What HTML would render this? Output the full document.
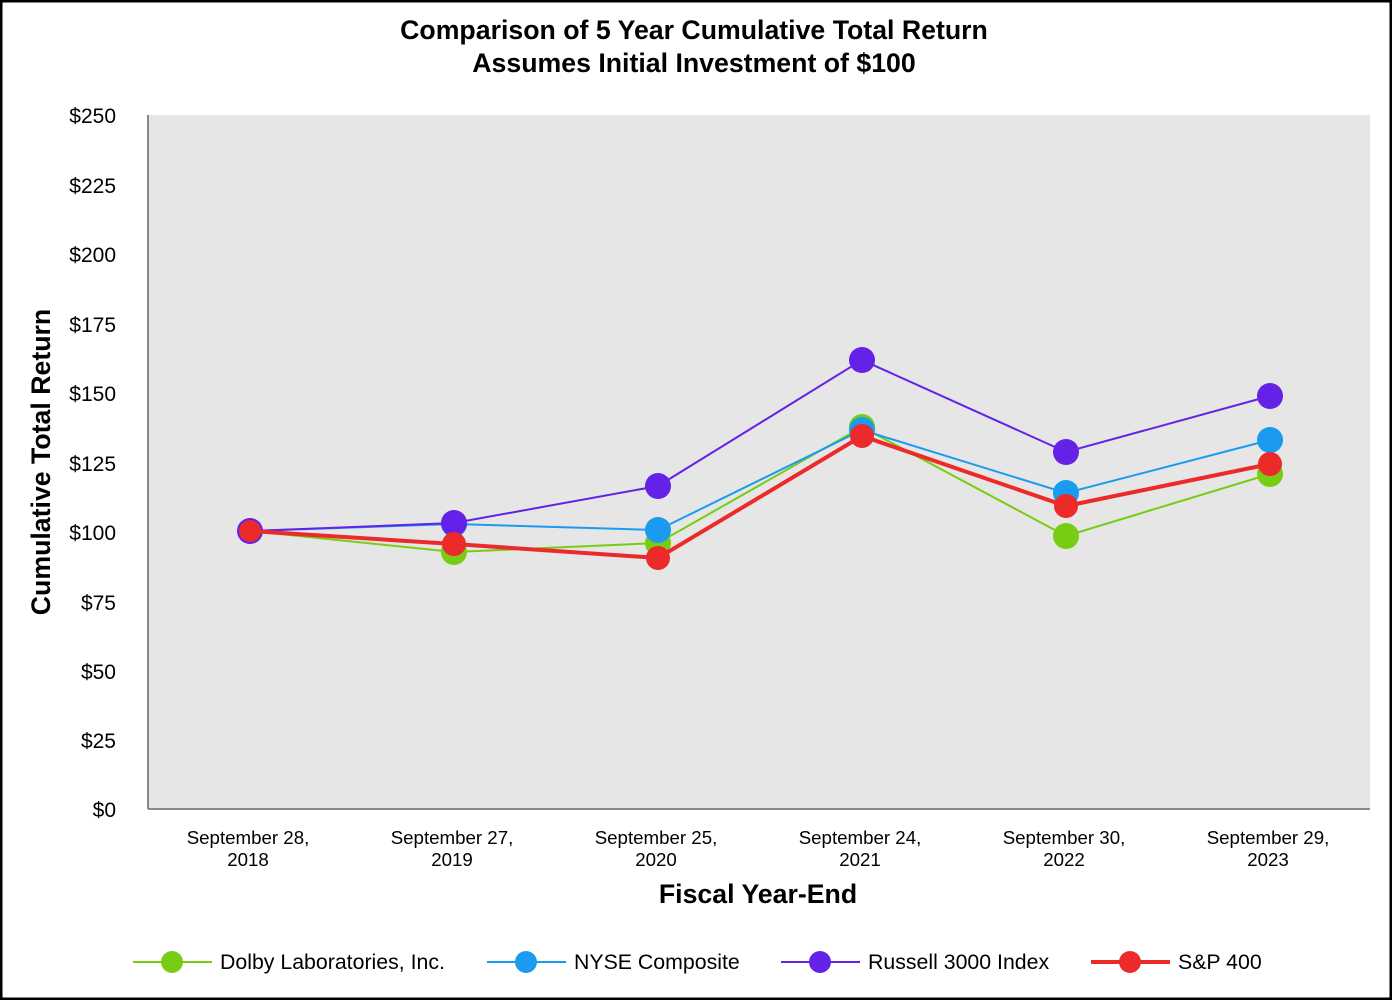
<!DOCTYPE html>
<html><head><meta charset="utf-8"><style>
body{margin:0;background:#fff}
svg{display:block}
text{font-family:"Liberation Sans",Arial,sans-serif}
</style></head><body>
<svg width="1392" height="1000" viewBox="0 0 1392 1000">
<rect x="1" y="1" width="1390" height="998" fill="#fff" stroke="#000" stroke-width="3"/>
<text x="694" y="39" font-size="26.7" font-weight="bold" text-anchor="middle">Comparison of 5 Year Cumulative Total Return</text>
<text x="694" y="72" font-size="26.7" font-weight="bold" text-anchor="middle">Assumes Initial Investment of $100</text>
<rect x="148" y="115" width="1222" height="694" fill="#e6e6e6"/>
<line x1="148" y1="115" x2="148" y2="809" stroke="#888" stroke-width="2"/>
<line x1="148" y1="809" x2="1370" y2="809" stroke="#888" stroke-width="2"/>
<g font-size="21" text-anchor="end">
<text x="116" y="123">$250</text><text x="116" y="193">$225</text><text x="116" y="262">$200</text>
<text x="116" y="332">$175</text><text x="116" y="401">$150</text><text x="116" y="471">$125</text>
<text x="116" y="540">$100</text><text x="116" y="610">$75</text><text x="116" y="679">$50</text>
<text x="116" y="748">$25</text><text x="116" y="817">$0</text>
</g>
<text transform="translate(50,462) rotate(-90)" font-size="26.7" font-weight="bold" text-anchor="middle">Cumulative Total Return</text>
<g font-size="18.7" text-anchor="middle">
<text x="248" y="844">September 28,</text><text x="248" y="866">2018</text>
<text x="452" y="844">September 27,</text><text x="452" y="866">2019</text>
<text x="656" y="844">September 25,</text><text x="656" y="866">2020</text>
<text x="860" y="844">September 24,</text><text x="860" y="866">2021</text>
<text x="1064" y="844">September 30,</text><text x="1064" y="866">2022</text>
<text x="1268" y="844">September 29,</text><text x="1268" y="866">2023</text>
</g>
<text x="758" y="903" font-size="26.7" font-weight="bold" text-anchor="middle">Fiscal Year-End</text>
<polyline points="250,531 454,552 658,543 862,427 1066,536 1270,474" fill="none" stroke="#78cc14" stroke-width="2"/>
<g fill="#78cc14"><circle cx="454" cy="552" r="13"/><circle cx="658" cy="543" r="13"/><circle cx="862" cy="427" r="13"/><circle cx="1066" cy="536" r="13"/><circle cx="1270" cy="474" r="13"/></g>
<polyline points="250,531 454,524 658,530 862,430 1066,493 1270,440" fill="none" stroke="#1a9bef" stroke-width="2"/>
<g fill="#1a9bef"><circle cx="454" cy="524" r="13"/><circle cx="658" cy="530" r="13"/><circle cx="862" cy="430" r="13"/><circle cx="1066" cy="493" r="13"/><circle cx="1270" cy="440" r="13"/></g>
<polyline points="250,531 454,523 658,486 862,360 1066,452 1270,396" fill="none" stroke="#6421e8" stroke-width="2"/>
<g fill="#6421e8"><circle cx="250" cy="531" r="13"/><circle cx="454" cy="523" r="13"/><circle cx="658" cy="486" r="13"/><circle cx="862" cy="360" r="13"/><circle cx="1066" cy="452" r="13"/><circle cx="1270" cy="396" r="13"/></g>
<polyline points="250,531 454,544 658,558 862,436 1066,506 1270,464" fill="none" stroke="#ec2a2a" stroke-width="4"/>
<g fill="#ec2a2a"><circle cx="250" cy="531" r="11"/><circle cx="454" cy="544" r="12"/><circle cx="658" cy="558" r="12"/><circle cx="862" cy="436" r="12"/><circle cx="1066" cy="506" r="12"/><circle cx="1270" cy="464" r="12"/></g>
<g font-size="21.3">
<line x1="133" y1="962" x2="212" y2="962" stroke="#78cc14" stroke-width="2"/><circle cx="172" cy="962" r="11" fill="#78cc14"/>
<text x="220" y="969">Dolby Laboratories, Inc.</text>
<line x1="487" y1="962" x2="566" y2="962" stroke="#1a9bef" stroke-width="2"/><circle cx="526" cy="962" r="11" fill="#1a9bef"/>
<text x="574" y="969">NYSE Composite</text>
<line x1="781" y1="962" x2="860" y2="962" stroke="#6421e8" stroke-width="2"/><circle cx="820" cy="962" r="11" fill="#6421e8"/>
<text x="868" y="969">Russell 3000 Index</text>
<line x1="1091" y1="962" x2="1170" y2="962" stroke="#ec2a2a" stroke-width="4"/><circle cx="1130" cy="962" r="11" fill="#ec2a2a"/>
<text x="1178" y="969">S&amp;P 400</text>
</g>
</svg>
</body></html>
